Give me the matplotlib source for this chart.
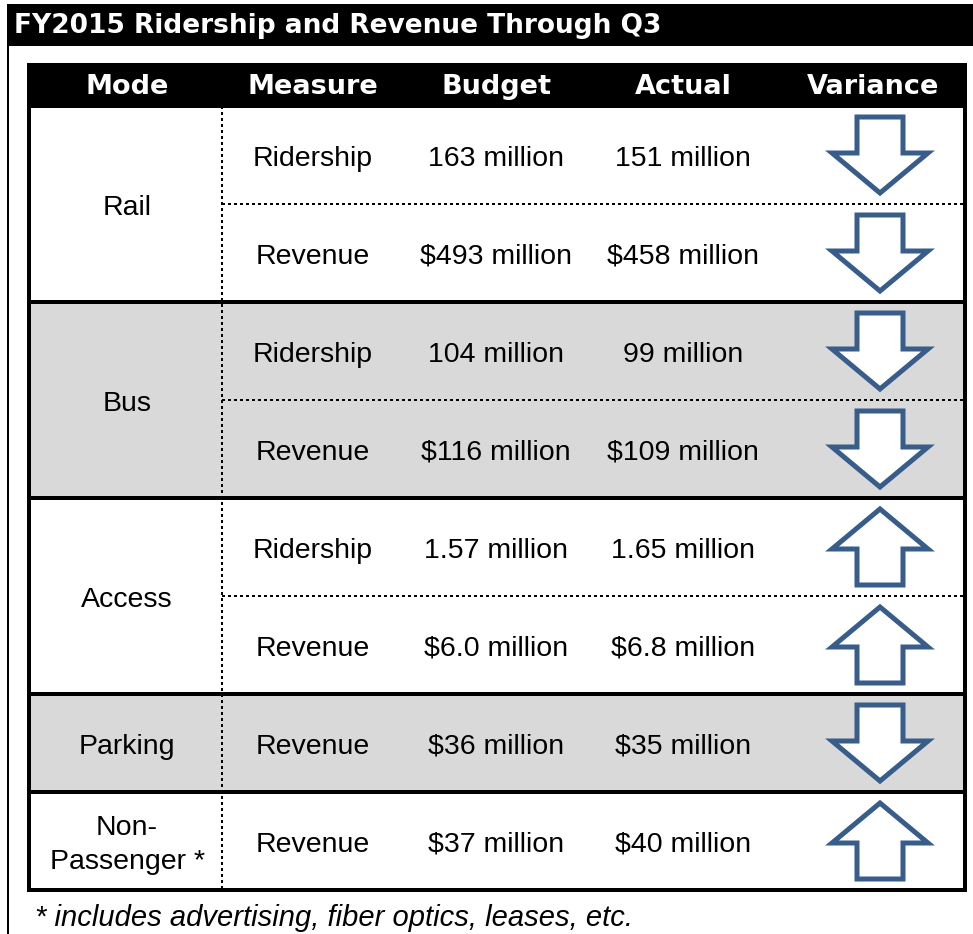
import matplotlib
matplotlib.use("Agg")
import matplotlib.pyplot as plt
import matplotlib.patches as patches

# table content
title = "FY2015 Ridership and Revenue Through Q3"
headers = ["Mode", "Measure", "Budget", "Actual", "Variance"]
modes = ["Rail", "Bus", "Access", "Parking", "Non-\nPassenger *"]
mode_rows = [2, 2, 2, 1, 1]  # measures per mode
measures = ["Ridership", "Revenue", "Ridership", "Revenue",
            "Ridership", "Revenue", "Revenue", "Revenue"]
budget_labels = ["163 million", "$493 million", "104 million", "$116 million",
                 "1.57 million", "$6.0 million", "$36 million", "$37 million"]
actual_labels = ["151 million", "$458 million", "99 million", "$109 million",
                 "1.65 million", "$6.8 million", "$35 million", "$40 million"]
budget_values = [163, 493, 104, 116, 1.57, 6.0, 36, 37]
actual_values = [151, 458, 99, 109, 1.65, 6.8, 35, 40]
footnote = "* includes advertising, fiber optics, leases, etc."

# layout in pixels
W, H = 973, 934
PX = 0.72  # points per pixel at dpi 100
col_x = [127, 313, 496, 683, 880]
head_x = [127, 313, 497, 683, 873]
tab_left, tab_right = 29, 965
mode_div = 222
head_top, head_bot = 63, 106
row_h = 98
txt_dy = 4  # text sits a bit below the cell middle
arrow_color = "#385d8a"
gray = "#d9d9d9"
body_font = "Liberation Sans"
bold_font = "DejaVu Sans"
body_size = 20.5

fig = plt.figure(figsize=(W / 100, H / 100), dpi=100)
ax = fig.add_axes([0, 0, 1, 1])
ax.set_xlim(0, W)
ax.set_ylim(H, 0)
ax.axis("off")

# title bar and outer frame line
ax.add_patch(patches.Rectangle((7, 4), W - 7, 42, facecolor="black", edgecolor="none"))
ax.plot([8, 8], [46, H], color="black", lw=2 * PX, solid_capstyle="butt")
ax.text(14, 26, title, color="white", fontsize=19, fontweight="bold",
        family=bold_font, va="center", ha="left")

# header
ax.add_patch(patches.Rectangle((27, head_top), 967 - 27, head_bot - head_top,
                               facecolor="black", edgecolor="none"))
for x, h in zip(head_x, headers):
    ax.text(x, 87, h, color="white", fontsize=19.5,
            fontweight="bold", family=bold_font, ha="center", va="center")


def arrow(cx, cy, up):
    hw, sw, hl, tot = 48, 23, 40, 76
    s = -1 if up else 1
    top = cy - s * tot / 2
    base = top + s * (tot - hl)
    tip = cy + s * tot / 2
    pts = [(cx - sw, top), (cx + sw, top), (cx + sw, base), (cx + hw, base),
           (cx, tip), (cx - hw, base), (cx - sw, base)]
    ax.add_patch(patches.Polygon(pts, closed=True, facecolor="white",
                                 edgecolor=arrow_color, lw=5 * PX, joinstyle="miter"))


# body
y = head_bot
r = 0
for m, (mode, n) in enumerate(zip(modes, mode_rows)):
    y0, y1 = y, y + n * row_h
    if m % 2 == 1:
        ax.add_patch(patches.Rectangle((tab_left, y0), tab_right - tab_left, y1 - y0,
                                       facecolor=gray, edgecolor="none"))
    ax.text(col_x[0], (y0 + y1) / 2 + txt_dy, mode, fontsize=body_size,
            family=body_font, ha="center", va="center", linespacing=1.4)
    for k in range(n):
        cy = y0 + (k + 0.5) * row_h
        ax.text(col_x[1], cy + txt_dy, measures[r], fontsize=body_size,
                family=body_font, ha="center", va="center")
        ax.text(col_x[2], cy + txt_dy, budget_labels[r], fontsize=body_size,
                family=body_font, ha="center", va="center")
        ax.text(col_x[3], cy + txt_dy, actual_labels[r], fontsize=body_size,
                family=body_font, ha="center", va="center")
        arrow(col_x[4], cy, actual_values[r] > budget_values[r])
        if k > 0:
            ax.plot([mode_div, tab_right], [y0 + k * row_h] * 2, color="black",
                    lw=2 * PX, dashes=(1.5, 1.5))
        r += 1
    if m > 0:
        ax.plot([tab_left, tab_right], [y0, y0], color="black", lw=4 * PX,
                solid_capstyle="butt")
    y = y1

tab_bot = y
ax.plot([mode_div, mode_div], [head_bot, tab_bot], color="black", lw=2 * PX,
        dashes=(1.5, 1.5))
ax.add_patch(patches.Rectangle((tab_left, head_bot), tab_right - tab_left,
                               tab_bot - head_bot, fill=False, edgecolor="black",
                               lw=4 * PX))

ax.text(35, 918, footnote, fontsize=21, family=body_font, style="italic",
        ha="left", va="center")

fig.savefig("out.png", dpi=100)
